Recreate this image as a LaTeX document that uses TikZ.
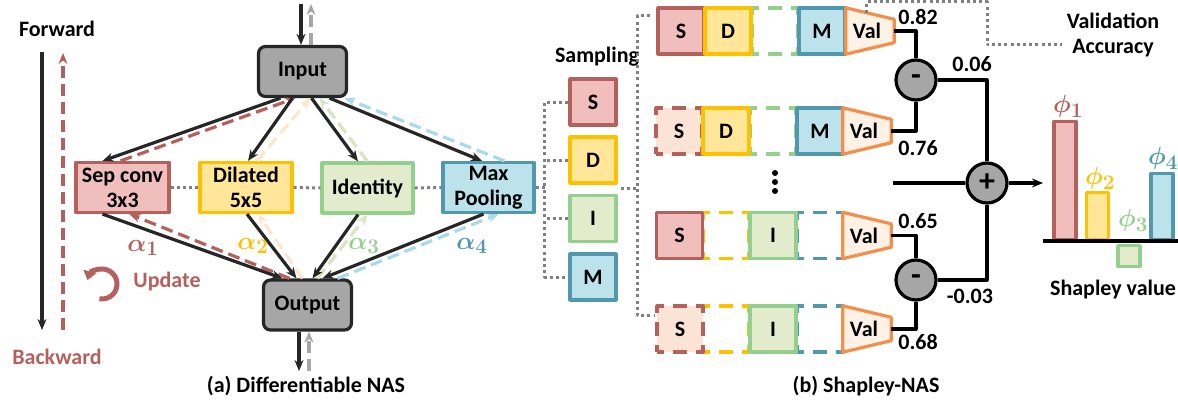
\documentclass[tikz,border=0pt]{standalone}
\usepackage{fontspec}
\setmainfont{Carlito}
\usepackage{amsmath,bm}
\usetikzlibrary{arrows.meta,calc}
\definecolor{rd}{HTML}{B4615D}
\definecolor{rf}{HTML}{F0BEBC}
\definecolor{yd}{HTML}{FFC000}
\definecolor{yf}{HTML}{FFE699}
\definecolor{gd}{HTML}{93CF8D}
\definecolor{gf}{HTML}{E2EBCB}
\definecolor{bd}{HTML}{4F98AD}
\definecolor{bf}{HTML}{BCE2EB}
\definecolor{gfill}{HTML}{A6A6A6}
\definecolor{gdraw}{HTML}{262626}
\definecolor{peach}{HTML}{FBE4D5}
\definecolor{valf}{HTML}{FEF1E6}
\definecolor{vald}{HTML}{F38E4B}
\definecolor{pe}{HTML}{FCE6CC}
\definecolor{gl}{HTML}{D8E5C0}
\definecolor{bl}{HTML}{A8DBEA}
\definecolor{grayar}{HTML}{A6A6A6}
\definecolor{dotc}{HTML}{808080}
\begin{document}
\begin{tikzpicture}[x=1pt,y=-1pt,line join=round,
  lbl/.style={font=\fontsize{22}{25}\selectfont\bfseries},
  op/.style={draw,line width=3.2pt,inner sep=0pt,minimum width=93pt,minimum height=50pt,align=center,lbl},
  gnode/.style={op,fill=gfill,draw=gdraw,rounded corners=7pt,minimum width=88pt,minimum height=50pt},
  cell/.style={draw,line width=3.2pt,minimum size=46pt,inner sep=0pt,lbl},
  ph/.style={cell,fill=white,dash pattern=on 14pt off 9pt,dash phase=7pt},
  dcell/.style={cell,fill=peach,draw=rd,dash pattern=on 14pt off 9pt,dash phase=7pt},
  valbox/.style={minimum width=48pt,minimum height=46pt,inner sep=0pt},
  valshape/.style={draw=vald,fill=valf,line width=3.2pt},
  fw/.style={draw=gdraw,line width=3.2pt,-{Stealth[length=11pt,width=9pt]}},
  bw/.style={line width=3.2pt,dash pattern=on 12pt off 6pt,-{Stealth[length=11pt,width=9pt]}},
  dot/.style={draw=dotc,line width=3pt,dash pattern=on 3pt off 3.2pt},
  conn/.style={draw=black,line width=3.2pt},
  circ/.style={circle,draw=black,fill=gfill,line width=3.2pt,minimum size=40pt,inner sep=0pt,font=\fontsize{32}{32}\selectfont\bfseries},
  num/.style={font=\fontsize{22}{24}\selectfont\bfseries},
  bar/.style={draw,line width=3.2pt,minimum width=22pt,inner sep=0pt},
  gk/.style={font=\fontsize{29}{30}\selectfont}
]
\useasboundingbox (0,0) rectangle (1178,404);

% ---------- (a) Differentiable NAS ----------
\node[lbl] (fwd) at (57,29) {Forward};
\node[lbl,text=rd] (bwd) at (57,357) {Backward};
\coordinate (f1) at (42,52); \coordinate (f2) at (42,330);
\draw[fw] (f1) -- (f2);
\coordinate (b1) at (63,330); \coordinate (b2) at (63,53);
\draw[bw,draw=rd] (b1) -- (b2);

\node[gnode] (in) at (302.5,71.5) {Input};
\node[gnode] (out) at (307.5,305) {Output};
\node[op,fill=rf,draw=rd] (sep) at (122.5,187.5) {Sep conv\\3x3};
\node[op,fill=yf,draw=yd,minimum width=92pt] (dil) at (246,187.5) {Dilated\\5x5};
\node[op,fill=gf,draw=gd,minimum width=91pt] (idn) at (367.5,188) {Identity};
\node[op,fill=bf,draw=bd,minimum width=91pt] (mp) at (488.5,187.5) {Max\\Pooling};

\draw[dot] (sep.east) -- (dil.west);
\draw[dot] (dil.east) -- (idn.west);
\draw[dot] (idn.east) -- (mp.west);

% backward dashed
\draw[bw,draw=pe] ([xshift=11]dil.north) -- ([xshift=8]in.south);
\draw[bw,draw=gl] ([xshift=0]idn.north) -- ([xshift=17]in.south);
\draw[bw,draw=bl] ([xshift=16]mp.north) -- ([xshift=42]in.south);
\draw[bw,draw=rd] ([xshift=-2]sep.north) -- ([xshift=-7]in.south);
\draw[bw,draw=pe] ([xshift=-5]out.north) -- ([xshift=12]dil.south);
\draw[bw,draw=gl] ([xshift=10]out.north) -- ([xshift=0]idn.south);
\draw[bw,draw=bl] ([xshift=30]out.north) -- ([xshift=10]mp.south);
\draw[bw,draw=rd] ([xshift=-18]out.north) -- ([xshift=7]sep.south);

% forward
\draw[fw] ([xshift=-22]in.south) -- ([xshift=-20]sep.north);
\draw[fw] ([xshift=-10]in.south) -- ([xshift=2]dil.north);
\draw[fw] ([xshift=9]in.south) -- ([xshift=-9.5]idn.north);
\draw[fw] ([xshift=27]in.south) -- ([xshift=-6.5]mp.north);
\draw[fw] ([xshift=-20]sep.south) -- ([xshift=-25]out.north);
\draw[fw] ([xshift=1]dil.south) -- ([xshift=-11]out.north);
\draw[fw] ([xshift=-9.5]idn.south) -- ([xshift=5]out.north);
\draw[fw] ([xshift=-5]mp.south) -- ([xshift=15]out.north);

\coordinate (tA) at (301,4); \coordinate (tB) at (311,4);
\draw[fw] (tA) -- ([xshift=-1.5]in.north);
\draw[bw,draw=grayar] ([xshift=8.5]in.north) -- (tB);
\coordinate (oA) at (299,371); \coordinate (oB) at (309,371);
\draw[fw] ([xshift=-8.5]out.south) -- (oA);
\draw[bw,draw=grayar] (oB) -- ([xshift=1.5]out.south);

\node[gk,text=rd] (a1) at (143,248) {$\bm{\alpha}_{\bm{1}}$};
\node[gk,text=yd] (a2) at (253,246) {$\bm{\alpha}_{\bm{2}}$};
\node[gk,text=gd] (a3) at (364,246) {$\bm{\alpha}_{\bm{3}}$};
\node[gk,text=bd] (a4) at (472,246) {$\bm{\alpha}_{\bm{4}}$};

\coordinate (uc) at (102,284);
\draw[draw=rd,line width=5pt,-{Triangle[length=9pt,width=13pt]}] (uc) ++(100:15) arc[start angle=100,end angle=-165,radius=15];
\node[lbl,text=rd] (upd) at (167,282) {Update};

\node[lbl] (capa) at (306,386) {(a) Differentiable NAS};

% ---------- (b) Shapley-NAS ----------
\node[lbl] (samp) at (597,57) {Sampling};
\node[cell,fill=rf,draw=rd] (sS) at (593,102) {S};
\node[cell,fill=yf,draw=yd] (sD) at (593,160) {D};
\node[cell,fill=gf,draw=gd] (sI) at (593,218.5) {I};
\node[cell,fill=bf,draw=bd] (sM) at (593,277) {M};
\draw[dot] (sS.west) -- ++(-24,0) |- (sM.west);
\draw[dot] (sD.west) -- ++(-24,0);
\draw[dot] (sI.west) -- ++(-24,0);
\draw[dot] (mp.east) -- ++(11,0);

% row 1
\node[ph,draw=gd] (r1c3) at (775,31) {};
\node[cell,fill=rf,draw=rd] (r1c1) at (681,31) {S};
\node[cell,fill=yf,draw=yd] (r1c2) at (728,31) {D};
\node[cell,fill=bf,draw=bd] (r1c4) at (822,31) {M};
\node[valbox] (v1) at (870,31) {};
\draw[valshape] (v1.north west) -- ($(v1.north east)+(0,11.5)$) -- ($(v1.south east)+(0,-11.5)$) -- (v1.south west) -- cycle;
\node[lbl] (v1t) at ([xshift=-3]v1.center) {Val};
% row 2
\node[ph,draw=gd] (r2c3) at (773,131) {};
\node[dcell] (r2c1) at (679,131) {S};
\node[cell,fill=yf,draw=yd] (r2c2) at (726,131) {D};
\node[cell,fill=bf,draw=bd] (r2c4) at (820,131) {M};
\node[valbox] (v2) at (867,131) {};
\draw[valshape] (v2.north west) -- ($(v2.north east)+(0,11.5)$) -- ($(v2.south east)+(0,-11.5)$) -- (v2.south west) -- cycle;
\node[lbl] (v2t) at ([xshift=-3]v2.center) {Val};
% row 3
\node[ph,draw=yd] (r3c2) at (726,235.5) {};
\node[ph,draw=bd] (r3c4) at (820,235.5) {};
\node[cell,fill=rf,draw=rd] (r3c1) at (679.5,235.5) {S};
\node[cell,fill=gf,draw=gd] (r3c3) at (773,235.5) {I};
\node[valbox] (v3) at (867,235.5) {};
\draw[valshape] (v3.north west) -- ($(v3.north east)+(0,11.5)$) -- ($(v3.south east)+(0,-11.5)$) -- (v3.south west) -- cycle;
\node[lbl] (v3t) at ([xshift=-3]v3.center) {Val};
% row 4
\node[ph,draw=yd] (r4c2) at (726,329) {};
\node[ph,draw=bd] (r4c4) at (820,329) {};
\node[dcell] (r4c1) at (680,329) {S};
\node[cell,fill=gf,draw=gd] (r4c3) at (773,329) {I};
\node[valbox] (v4) at (867,329) {};
\draw[valshape] (v4.north west) -- ($(v4.north east)+(0,11.5)$) -- ($(v4.south east)+(0,-11.5)$) -- (v4.south west) -- cycle;
\node[lbl] (v4t) at ([xshift=-3]v4.center) {Val};

% second bracket
\coordinate (k1) at (650,16); \coordinate (k2) at (621,188); \coordinate (k3) at (637,188);
\draw[dot] (k1) -- (637,16) |- ([yshift=14]r4c1.west);
\draw[dot] (k2) -- (k3);

% vertical dots
\fill (775,173) circle[radius=3];
\fill (775,182) circle[radius=3];
\fill (775,191) circle[radius=3];

% circles
\node[circ] (m1) at (916,80) {-};
\node[circ] (pl) at (987,183) {+};
\node[circ] (m2) at (916,280) {-};
\draw[conn] (v1.east) -| (m1.north);
\draw[conn] (v2.east) -| (m1.south);
\draw[conn] (v3.east) -| (m2.north);
\draw[conn] (v4.east) -| (m2.south);
\draw[conn] (m1.east) -| (pl.north);
\draw[conn] (m2.east) -| (pl.south);
\coordinate (pin) at (893,183); \coordinate (pout) at (1043,183);
\draw[conn] (pin) -- (pl.west);
\draw[conn,-{Stealth[length=11pt,width=9pt]}] (pl.east) -- (pout);

\node[num] (n1) at (918,17) {0.82};
\node[num] (n2) at (918,148) {0.76};
\node[num] (n3) at (972,64) {0.06};
\node[num] (n4) at (918,221) {0.65};
\node[num] (n5) at (970,296) {-0.03};
\node[num] (n6) at (918,342) {0.68};

% validation accuracy
\node[lbl,align=center] (va) at (1113,35) {Validation\\Accuracy};
\draw[dot] ($(v1.north)+(-4,5)$) |- (987,2) |- (1062,45);

% bars
\node[bar,fill=rf,draw=rd,minimum height=118pt,anchor=south] (p1) at (1065,241) {};
\node[bar,fill=yf,draw=yd,minimum height=47pt,anchor=south] (p2) at (1097.5,241) {};
\node[bar,fill=gf,draw=gd,minimum height=21pt,anchor=north] (p3) at (1129,244) {};
\node[bar,fill=bf,draw=bd,minimum height=66pt,anchor=south] (p4) at (1162,241) {};
\coordinate (ax1) at (1043,241); \coordinate (ax2) at (1178,241);
\draw[line width=3.5pt] (ax1) -- (ax2);
\node[gk,text=rd] (l1) at (1068,106) {$\bm{\phi}_{\bm{1}}$};
\node[gk,text=yd] (l2) at (1100,178) {$\bm{\phi}_{\bm{2}}$};
\node[gk,text=gd] (l3) at (1133,220) {$\bm{\phi}_{\bm{3}}$};
\node[gk,text=bd] (l4) at (1163,158) {$\bm{\phi}_{\bm{4}}$};
\node[lbl] (shv) at (1113,290) {Shapley value};

\node[lbl] (capb) at (866,386) {(b) Shapley-NAS};
\end{tikzpicture}
\end{document}
